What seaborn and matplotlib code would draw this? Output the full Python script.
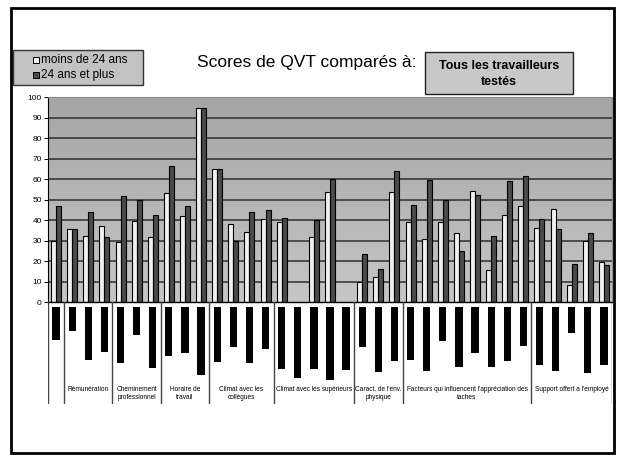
import numpy as np
import pandas as pd
import matplotlib
matplotlib.use("Agg")
import matplotlib.pyplot as plt
from matplotlib.patches import Rectangle
import seaborn as sns

nan = np.nan

# groupes de questions (nombre d'items par groupe)
groupes = ["", "Rémunération", "Cheminement\nprofessionnel", "Horaire de\ntravail",
           "Climat avec les\ncollègues", "Climat avec les supérieurs",
           "Caract. de l'env.\nphysique",
           "Facteurs qui influencent l'appréciation des\ntaches",
           "Support offert a l'employé"]
taille_groupes = [1, 3, 3, 3, 4, 5, 3, 8, 5]

moins_24 = [30, 35.5, 32, 37, 29.5, 39.5, 31.5, 53, 42, 94.5, 65, 38, 34, 40.5,
            39, nan, 31.5, 53.5, nan, 10, 12, 53.5,
            39, 30.5, 39, 33.5, 54, 15.5, 42.5, 47,
            36, 45.5, 8.5, 30, 19.5]
plus_24 = [47, 35.5, 44, 31.5, 51.5, 50, 42.5, 66.5, 47, 94.5, 65, 30, 44, 45,
           41, nan, 40, 60, nan, 23.5, 16, 64,
           47.5, 59.5, 50, 25, 52, 32, 59, 61.5,
           40.5, 35.5, 18.5, 33.5, 18]
ecart = [16, 11.5, 26, 22, 27.5, 13.5, 29.5, 24, 22.5, 33, 27, 19.5, 27.5, 20.5,
         30, 34.5, 30, 35.5, 30.5, 19.5, 31.5, 26.5,
         26, 31, 16.5, 29, 22.5, 29, 26.5, 19,
         28.5, 31, 12.5, 32, 28.5]

series = ["moins de 24 ans", "24 ans et plus"]
couleurs = {"moins de 24 ans": "#f0f0f0", "24 ans et plus": "#4a4a4a"}

items = ["Q%d" % (i + 1) for i in range(len(moins_24))]
df = pd.DataFrame({"item": items * 2,
                   "groupe": [series[0]] * len(items) + [series[1]] * len(items),
                   "score": moins_24 + plus_24}).dropna()
df_ecart = pd.DataFrame({"item": items, "ecart": [-v for v in ecart]})

plt.rcParams["font.family"] = ["Liberation Sans", "DejaVu Sans"]

W, H = 620, 461
fig = plt.figure(figsize=(6.2, 4.61), dpi=100)


def fx(x):
    return x / W


def fy(y):
    return 1 - y / H


# graphique principal
ax = fig.add_axes([fx(48), fy(302), fx(612) - fx(48), fy(97) - fy(302)])
n = len(items)
grad = np.linspace(0, 1, 100).reshape(-1, 1)
ax.imshow(grad, extent=[-0.5, n - 0.5, 0, 100], aspect="auto", origin="upper",
          cmap=matplotlib.colors.LinearSegmentedColormap.from_list("g", ["#a5a5a5", "#c6c6c6"]),
          zorder=0)
ax.hlines(range(10, 100, 10), -0.5, n - 0.5, color="#2e2e2e", lw=1.1, zorder=0.5)

sns.barplot(data=df, x="item", y="score", hue="groupe", order=items, hue_order=series,
            palette=couleurs, width=0.62, errorbar=None, edgecolor="black",
            linewidth=0.8, legend=False, ax=ax, zorder=2)

ax.set_xlim(-0.5, n - 0.5)
ax.set_ylim(0, 100)
ax.set_yticks(range(0, 101, 10))
ax.set_xticks([])
ax.set_xlabel("")
ax.set_ylabel("")
ax.tick_params(axis="y", labelsize=6, length=3, width=0.7, pad=1.5)
for s in ["top", "right"]:
    ax.spines[s].set_color("#8a8a8a")
ax.spines["left"].set_linewidth(0.8)
ax.spines["bottom"].set_linewidth(1)

# partie inférieure : écarts + noms de groupes
ax2 = fig.add_axes([fx(48), fy(404), fx(612) - fx(48), fy(302) - fy(404)])
sns.barplot(data=df_ecart, x="item", y="ecart", order=items, color="black",
            width=0.45, errorbar=None, ax=ax2)
ax2.set_xlim(-0.5, n - 0.5)
ax2.set_ylim(-47.3, 2.5)
ax2.axis("off")

debut = 0
for nom, k in zip(groupes, taille_groupes):
    ax2.axvline(debut - 0.5, color="#444444", lw=1)
    ax2.text(debut + k / 2 - 0.5, 0.175, nom, transform=ax2.get_xaxis_transform(),
             ha="center", va="top", fontsize=4.7, linespacing=1.25)
    debut += k
ax2.axvline(n - 0.5, color="#444444", lw=1)

# légende
fig.add_artist(Rectangle((fx(13), fy(85)), fx(143) - fx(13), fy(50) - fy(85),
                         transform=fig.transFigure, facecolor="#c2c2c2",
                         edgecolor="#333333", lw=1))
for (y, nom) in [(60, series[0]), (75, series[1])]:
    fig.add_artist(Rectangle((fx(33), fy(y + 3)), fx(6) - fx(0), fy(0) - fy(6),
                             transform=fig.transFigure, facecolor=couleurs[nom],
                             edgecolor="black", lw=0.7))
    fig.text(fx(41), fy(y), nom, fontsize=8.5, va="center", ha="left")

# titre et encadré
fig.text(fx(307), fy(63), "Scores de QVT comparés à:", fontsize=12.5,
         ha="center", va="center")
fig.add_artist(Rectangle((fx(425), fy(94)), fx(573) - fx(425), fy(52) - fy(94),
                         transform=fig.transFigure, facecolor="#c8c8c8",
                         edgecolor="#222222", lw=1))
fig.text(fx(499), fy(74), "Tous les travailleurs\ntestés", fontsize=9,
         fontweight="bold", ha="center", va="center", linespacing=1.45)

# cadre extérieur
fig.add_artist(Rectangle((fx(11), fy(453)), fx(614) - fx(11), fy(8) - fy(453),
                         transform=fig.transFigure, facecolor="none",
                         edgecolor="black", lw=2))

fig.savefig("out.png", dpi=100)
